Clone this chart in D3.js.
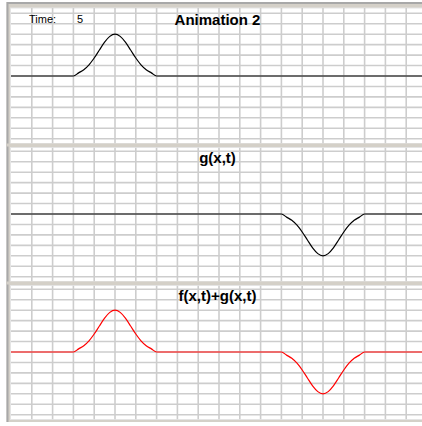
<!DOCTYPE html>
<html><head><meta charset="utf-8">
<script src="https://cdn.jsdelivr.net/npm/d3@7"></script>
<style>html,body{margin:0;padding:0;background:#fff;overflow:hidden}</style>
</head><body><div id="chart"></div>
<script>
// ---- data ----
const timeValue = 5;
const panelTitles = ["Animation 2", "g(x,t)", "f(x,t)+g(x,t)"];
const xValues = [0,
  3,3.25,3.5,3.75,4,4.25,4.5,4.75,5,5.25,5.5,5.75,6,6.25,6.5,6.75,7,
  13,13.25,13.5,13.75,14,14.25,14.5,14.75,15,15.25,15.5,15.75,16,16.25,16.5,16.75,17,
  20];
const fValues = [0,
  0,0.3,0.6,1.07,1.72,2.49,3.24,3.79,4,3.79,3.24,2.49,1.72,1.07,0.6,0.3,0,
  0,0,0,0,0,0,0,0,0,0,0,0,0,0,0,0,0,
  0];
const gValues = [0,
  0,0,0,0,0,0,0,0,0,0,0,0,0,0,0,0,0,
  0,-0.3,-0.6,-1.07,-1.72,-2.49,-3.24,-3.79,-4,-3.79,-3.24,-2.49,-1.72,-1.07,-0.6,-0.3,0,
  0];
const sumValues = [0,
  0,0.3,0.6,1.07,1.72,2.49,3.24,3.79,4,3.79,3.24,2.49,1.72,1.07,0.6,0.3,0,
  0,-0.3,-0.6,-1.07,-1.72,-2.49,-3.24,-3.79,-4,-3.79,-3.24,-2.49,-1.72,-1.07,-0.6,-0.3,0,
  0];
const xTicks = d3.range(1, 21);
const yTicks = d3.range(-6, 7);
const seriesList = [fValues, gValues, sumValues];
const seriesColors = ["#000000", "#000000", "#ff0000"];

// ---- layout ----
const W = 422, H = 426;
const svg = d3.select("#chart").append("svg").attr("width", W).attr("height", H);
svg.append("rect").attr("width", W).attr("height", H).attr("fill", "#ffffff");

// outer frame
svg.append("rect").attr("x", 6.5).attr("y", 2).attr("width", 430).attr("height", 420)
  .attr("fill", "#d4d0c8");
svg.append("path").attr("d", "M7.5,422 V3 H440").attr("fill", "none")
  .attr("stroke", "#a8a8a8").attr("stroke-width", 2);

const x = d3.scaleLinear().domain([0, 20]).range([11, 427]);
const panelH = 138;

seriesList.forEach((vals, i) => {
  const base = 76 + panelH * i;
  const y = d3.scaleLinear().domain([-6.6, 6.6]).range([base + 69, base - 69]);
  const g = svg.append("g");
  const top = base - 68 + (i === 0 ? 0 : 1.5);
  const bot = base + 67.5;
  g.append("rect").attr("x", 10.5).attr("y", top).attr("width", 430).attr("height", bot - top)
    .attr("fill", "#ffffff").attr("stroke", "#e4e4e4").attr("stroke-width", 1);
  const clipId = "clip" + i;
  g.append("clipPath").attr("id", clipId).append("rect")
    .attr("x", 11).attr("y", top).attr("width", 430).attr("height", bot - top);
  const inner = g.append("g").attr("clip-path", `url(#${clipId})`);
  // grid
  inner.selectAll(".vg").data(xTicks).join("line")
    .attr("x1", d => x(d)).attr("x2", d => x(d)).attr("y1", top).attr("y2", bot)
    .attr("stroke", "#cdcdcd").attr("stroke-width", 1.6);
  inner.selectAll(".hg").data(yTicks).join("line")
    .attr("x1", 11).attr("x2", 440).attr("y1", d => y(d)).attr("y2", d => y(d))
    .attr("stroke", "#cdcdcd").attr("stroke-width", 1.6);
  // curve
  const line = d3.line().x((d, j) => x(xValues[j])).y(d => y(d)).curve(d3.curveMonotoneX);
  inner.append("path").datum(vals).attr("d", line).attr("fill", "none")
    .attr("stroke", seriesColors[i]).attr("stroke-width", 1.2);
  // title
  g.append("text").attr("x", 217.5).attr("y", base - 51).attr("text-anchor", "middle")
    .attr("font-family", "Liberation Sans, Arial, sans-serif").attr("font-weight", "bold")
    .attr("font-size", 15).attr("fill", "#000").text(panelTitles[i]);
});

// separators between panels
[1, 2].forEach(i => {
  const yb = 76 + panelH * i - 69;
  svg.append("rect").attr("x", 6.5).attr("y", yb - 1.5).attr("width", 430).attr("height", 3)
    .attr("fill", "#d4d0c8");
});

// time label
svg.append("text").attr("x", 29).attr("y", 23).attr("font-family", "Liberation Sans, Arial, sans-serif")
  .attr("font-size", 11).attr("fill", "#000").text("Time:");
svg.append("text").attr("x", 77).attr("y", 23).attr("font-family", "Liberation Sans, Arial, sans-serif")
  .attr("font-size", 11).attr("fill", "#000").text(timeValue);
</script></body></html>
